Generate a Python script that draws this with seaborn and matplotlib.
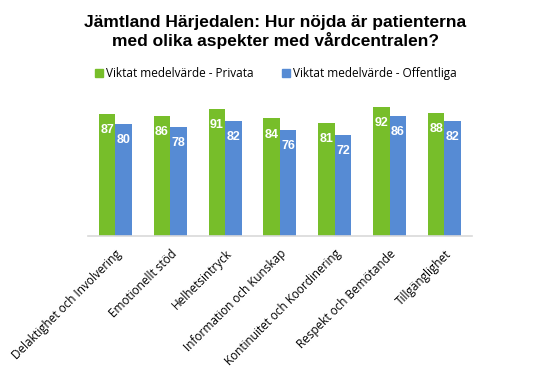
import matplotlib
matplotlib.use("Agg")
import matplotlib.pyplot as plt
from matplotlib.lines import Line2D
import pandas as pd
import seaborn as sns

kategorier = [
    "Delaktighet och Involvering",
    "Emotionellt stöd",
    "Helhetsintryck",
    "Information och Kunskap",
    "Kontinuitet och Koordinering",
    "Respekt och Bemötande",
    "Tillgänglighet",
]
privata = [87, 86, 91, 84, 81, 92, 88]
offentliga = [80, 78, 82, 76, 72, 86, 82]
serier = ["Viktat medelvärde - Privata", "Viktat medelvärde - Offentliga"]
farger = ["#77BE2A", "#568BD4"]

df = pd.DataFrame({
    "kategori": kategorier * 2,
    "serie": [serier[0]] * len(kategorier) + [serier[1]] * len(kategorier),
    "varde": privata + offentliga,
})

sns.set_style("white")
plt.rcParams["font.family"] = ["Liberation Sans", "DejaVu Sans"]
plt.rcParams["text.color"] = "black"
plt.rcParams["xtick.color"] = "black"

fig = plt.figure(figsize=(5.5, 3.79), dpi=100)
ax = fig.add_axes([0.16, 0.377, 0.698, 0.37])

sns.barplot(data=df, x="kategori", y="varde", hue="serie", palette=farger,
            width=0.6, gap=0, ax=ax, legend=False, saturation=1, linewidth=0)

for cont in ax.containers:
    ax.bar_label(cont, labels=[f"{v:.0f}" for v in cont.datavalues],
                 padding=-16, color="white", fontsize=9, fontweight="bold")

ax.set_ylim(0, 100)
ax.set_xlim(-0.5, len(kategorier) - 0.5)
ax.set_yticks([])
ax.set_xlabel("")
ax.set_ylabel("")
for s in ["top", "right", "left"]:
    ax.spines[s].set_visible(False)
ax.spines["bottom"].set_color("#D9D9D9")
ax.spines["bottom"].set_linewidth(1.2)
ax.tick_params(axis="x", length=0, pad=8)
ax.set_xticks(range(len(kategorier)))
ax.set_xticklabels(kategorier, rotation=45, ha="right", rotation_mode="anchor",
                   fontsize=8.5, color="black", family=["Open Sans", "DejaVu Sans"])

handles = [Line2D([], [], marker="s", linestyle="", color=c, markersize=6) for c in farger]
fig.legend(handles, serier, loc="center", bbox_to_anchor=(0.5, 0.807), ncol=2,
           frameon=False, handletextpad=0.1, columnspacing=2.2, handlelength=1.0,
           prop={"family": ["Open Sans", "DejaVu Sans"], "size": 8.5})

fig.text(0.5, 0.915, "Jämtland Härjedalen: Hur nöjda är patienterna\nmed olika aspekter med vårdcentralen?",
         ha="center", va="center", fontsize=12.5, fontweight="bold", linespacing=1.15,
         color="black")

fig.savefig("out.png", dpi=100)
